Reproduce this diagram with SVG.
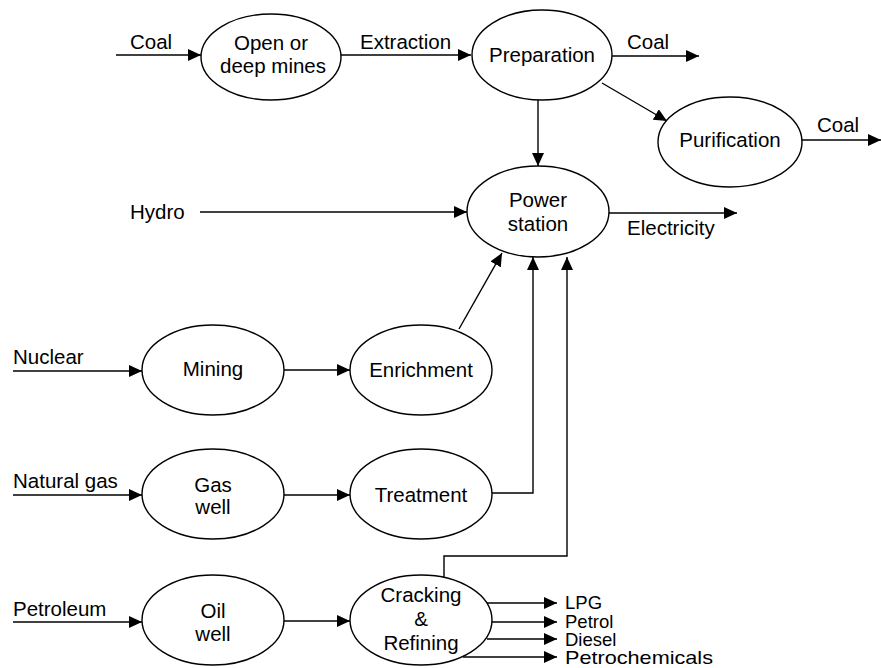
<svg xmlns="http://www.w3.org/2000/svg" width="881" height="668" viewBox="0 0 881 668">
<style>
.n{fill:#fff;stroke:#000;stroke-width:1.4}
.t{font-family:"Liberation Sans",Arial,sans-serif;font-size:20.5px;fill:#000}
.o{font-family:"Liberation Sans",Arial,sans-serif;font-size:18.5px;fill:#000}
.m{text-anchor:middle}
.c{fill:none;stroke:#000;stroke-width:1.4}
</style>
<defs>
<marker id="a" markerUnits="userSpaceOnUse" markerWidth="14" markerHeight="12" refX="13" refY="6" orient="auto">
<path d="M0,0 L13,6 L0,12 Z" fill="#000"/>
</marker>
</defs>
<rect width="881" height="668" fill="#fff"/>
<g id="connectors">
<line class="c" x1="116" y1="55" x2="201" y2="55" marker-end="url(#a)"/>
<line class="c" x1="341" y1="55" x2="471" y2="55" marker-end="url(#a)"/>
<line class="c" x1="612" y1="56" x2="699" y2="56" marker-end="url(#a)"/>
<line class="c" x1="602" y1="83" x2="667" y2="121" marker-end="url(#a)"/>
<line class="c" x1="538" y1="100" x2="538" y2="166" marker-end="url(#a)"/>
<line class="c" x1="802" y1="140" x2="881" y2="140" marker-end="url(#a)"/>
<line class="c" x1="200" y1="212" x2="467" y2="212" marker-end="url(#a)"/>
<line class="c" x1="609" y1="213" x2="737" y2="213" marker-end="url(#a)"/>
<line class="c" x1="13" y1="371" x2="142" y2="371" marker-end="url(#a)"/>
<line class="c" x1="284" y1="370" x2="350" y2="370" marker-end="url(#a)"/>
<line class="c" x1="459" y1="329" x2="502" y2="253" marker-end="url(#a)"/>
<line class="c" x1="13" y1="495" x2="142" y2="495" marker-end="url(#a)"/>
<line class="c" x1="284" y1="495" x2="350" y2="495" marker-end="url(#a)"/>
<polyline class="c" points="492,493 533,493 533,257" marker-end="url(#a)"/>
<line class="c" x1="13" y1="622" x2="142" y2="622" marker-end="url(#a)"/>
<line class="c" x1="284" y1="621" x2="350" y2="621" marker-end="url(#a)"/>
<polyline class="c" points="444,577 444,556 567,556 567,257" marker-end="url(#a)"/>
<line class="c" x1="486" y1="603" x2="557" y2="603" marker-end="url(#a)"/>
<line class="c" x1="489" y1="622" x2="557" y2="622" marker-end="url(#a)"/>
<line class="c" x1="487" y1="639" x2="557" y2="639" marker-end="url(#a)"/>
<line class="c" x1="463" y1="657" x2="557" y2="657" marker-end="url(#a)"/>
</g>
<g id="labels">
<text class="t" x="130" y="49">Coal</text>
<text class="t" x="360" y="49">Extraction</text>
<text class="t" x="627" y="49">Coal</text>
<text class="t" x="817" y="132">Coal</text>
<text class="t" x="130" y="219">Hydro</text>
<text class="t" x="627" y="235">Electricity</text>
<text class="t" x="13" y="364">Nuclear</text>
<text class="t" x="13" y="488">Natural gas</text>
<text class="t" x="13" y="616">Petroleum</text>
<text class="o" x="565" y="609">LPG</text>
<text class="o" x="565" y="628">Petrol</text>
<text class="o" x="565" y="646">Diesel</text>
<text class="o" x="565" y="664" textLength="148" lengthAdjust="spacingAndGlyphs">Petrochemicals</text>
</g>
<g id="mines"><ellipse class="n" cx="271" cy="57" rx="70" ry="43"/><text class="t m" x="271" y="50">Open or</text><text class="t m" x="273" y="73">deep mines</text></g>
<g id="preparation"><ellipse class="n" cx="542" cy="55" rx="70" ry="45"/><text class="t m" x="542" y="62">Preparation</text></g>
<g id="purification"><ellipse class="n" cx="730" cy="142" rx="72" ry="45"/><text class="t m" x="730" y="147">Purification</text></g>
<g id="power"><ellipse class="n" cx="538" cy="211.5" rx="71" ry="45.5"/><text class="t m" x="538" y="207">Power</text><text class="t m" x="538" y="231">station</text></g>
<g id="mining"><ellipse class="n" cx="213" cy="370" rx="71" ry="45"/><text class="t m" x="213" y="376">Mining</text></g>
<g id="enrichment"><ellipse class="n" cx="421" cy="370" rx="71" ry="45"/><text class="t m" x="421" y="377">Enrichment</text></g>
<g id="gaswell"><ellipse class="n" cx="213" cy="494" rx="71" ry="45"/><text class="t m" x="213" y="492">Gas</text><text class="t m" x="213" y="514">well</text></g>
<g id="treatment"><ellipse class="n" cx="421" cy="494" rx="71" ry="45"/><text class="t m" x="421" y="502">Treatment</text></g>
<g id="oilwell"><ellipse class="n" cx="213" cy="620" rx="71" ry="45"/><text class="t m" x="213" y="618">Oil</text><text class="t m" x="213" y="641">well</text></g>
<g id="cracking"><ellipse class="n" cx="421" cy="620" rx="71" ry="45"/><text class="t m" x="421" y="602">Cracking</text><text class="t m" x="421" y="626">&amp;</text><text class="t m" x="421" y="650">Refining</text></g>
</svg>
